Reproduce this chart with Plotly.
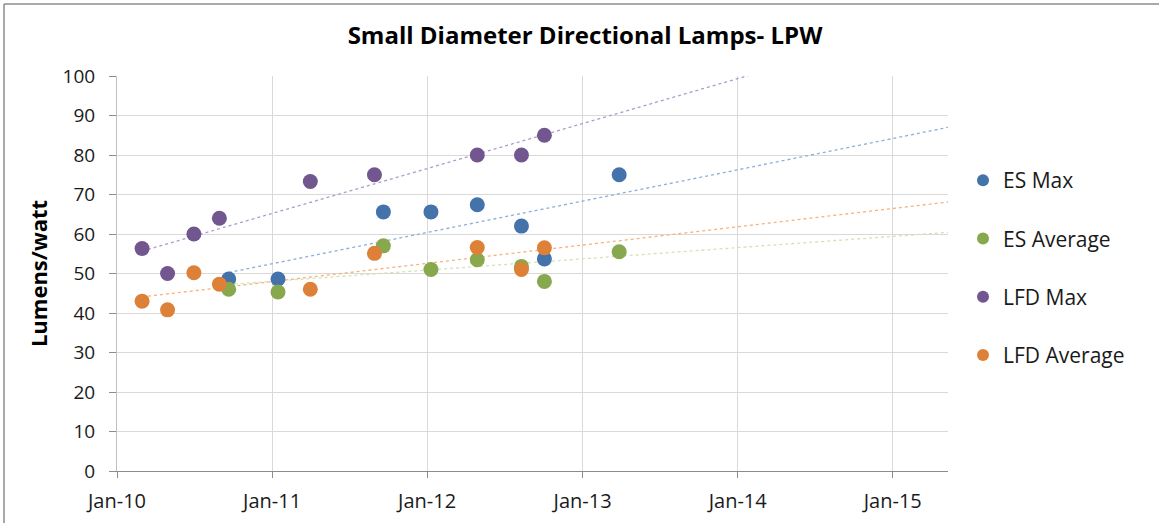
import numpy as np
import pandas as pd
import plotly.graph_objects as go

# ---- data ----
lfd_dates = ["2010-03-01", "2010-04-30", "2010-07-01", "2010-08-30", "2011-04-01",
             "2011-08-30", "2012-04-28", "2012-08-10", "2012-10-03"]
lfd_max = [56.3, 50.0, 60.0, 64.0, 73.3, 75.0, 80.0, 80.0, 85.0]
lfd_avg = [43.0, 40.8, 50.2, 47.3, 46.0, 55.1, 56.6, 51.0, 56.5]

es_dates = ["2010-09-21", "2011-01-15", "2011-09-20", "2012-01-10", "2012-04-28",
            "2012-08-10", "2012-10-03", "2013-03-28"]
es_max = [48.6, 48.6, 65.6, 65.6, 67.4, 62.0, 53.7, 75.0]
es_avg = [46.0, 45.3, 57.0, 51.0, 53.5, 51.8, 48.0, 55.5]

x_ticks = ["2010-01-01", "2011-01-01", "2012-01-01", "2013-01-01", "2014-01-01", "2015-01-01"]
x_tick_labels = ["Jan-10", "Jan-11", "Jan-12", "Jan-13", "Jan-14", "Jan-15"]
x_range = ["2010-01-01", "2015-05-11"]
y_ticks = list(range(0, 101, 10))

series = [
    ("ES Max", es_dates, es_max, "#4472AA", "#8DAEDB"),
    ("ES Average", es_dates, es_avg, "#87A84C", "#D3E2B6"),
    ("LFD Max", lfd_dates, lfd_max, "#71568F", "#AE9BCB"),
    ("LFD Average", lfd_dates, lfd_avg, "#DE8138", "#F5B27E"),
]

FONT = "'Open Sans', sans-serif"
origin = pd.Timestamp("2010-01-01")


def trendline(dates, vals, end):
    d = pd.to_datetime(dates)
    t = np.array([(v - origin).days for v in d], dtype=float)
    k, b = np.polyfit(t, np.array(vals, dtype=float), 1)
    t_end = float((pd.Timestamp(end) - origin).days)
    return [d[0], pd.Timestamp(end)], [k * t[0] + b, k * t_end + b]


fig = go.Figure()

# trendlines (drawn first, under the markers)
for name, dates, vals, col, lcol in series:
    tx, ty = trendline(dates, vals, x_range[1])
    fig.add_trace(go.Scatter(
        x=tx, y=ty, mode="lines", showlegend=False, hoverinfo="skip",
        line=dict(color=lcol, width=1.3, dash="dot"),
    ))

for name, dates, vals, col, lcol in series:
    fig.add_trace(go.Scatter(
        x=dates, y=vals, mode="markers", name=name, legendgroup=name,
        marker=dict(color=col, size=15, line=dict(width=0)),
    ))

W, H = 1159, 523
L, R, T, B = 117, 211, 76, 52
pw = W - L - R
ph = H - T - B


def px_x(p):
    return (p - L) / pw


def px_y(p):
    return (H - B - p) / ph


fig.update_layout(
    width=W, height=H,
    margin=dict(l=L, r=R, t=T, b=B),
    paper_bgcolor="white", plot_bgcolor="white",
    font=dict(family=FONT, size=19, color="#1a1a1a"),
    title=dict(text="<b>Small Diameter Directional Lamps- LPW</b>",
               x=585 / W, xanchor="center", y=1 - 36 / H, yanchor="middle",
               font=dict(family=FONT, size=24, color="#000000")),
    showlegend=True,
    legend=dict(x=px_x(963), xanchor="left", y=px_y(160), yanchor="top",
                font=dict(family=FONT, size=21, color="#1a1a1a"),
                tracegroupgap=28, itemwidth=30, itemsizing="constant",
                bgcolor="rgba(0,0,0,0)"),
    xaxis=dict(
        type="date", range=x_range, tickvals=x_ticks, ticktext=x_tick_labels,
        showgrid=True, gridcolor="#D9D9D9", gridwidth=1,
        showline=True, linecolor="#8C8C8C", linewidth=1.3,
        ticks="outside", ticklen=6, tickcolor="#8C8C8C",
        ticklabelstandoff=6, zeroline=False, automargin=False,
        tickfont=dict(family=FONT, size=20, color="#1a1a1a"),
    ),
    yaxis=dict(
        range=[0, 100], tickvals=y_ticks,
        showgrid=True, gridcolor="#D9D9D9", gridwidth=1,
        showline=True, linecolor="#BFBFBF", linewidth=1,
        ticks="outside", ticklen=7, tickcolor="#8C8C8C",
        ticklabelstandoff=10, zeroline=False, automargin=False,
        tickfont=dict(family=FONT, size=19, color="#1a1a1a"),
        title=dict(text="<b>Lumens/watt</b>", standoff=8,
                   font=dict(family=FONT, size=22, color="#000000")),
    ),
    shapes=[
        dict(type="line", xref="paper", yref="paper",
             x0=px_x(4), x1=px_x(4), y0=px_y(4), y1=px_y(560),
             line=dict(color="#8C8C8C", width=1.5)),
        dict(type="line", xref="paper", yref="paper",
             x0=px_x(4), x1=px_x(1200), y0=px_y(4), y1=px_y(4),
             line=dict(color="#8C8C8C", width=1.5)),
    ],
)

fig.write_html("out.html", config={"displayModeBar": False},
               post_script="document.body.style.margin='0px';")
